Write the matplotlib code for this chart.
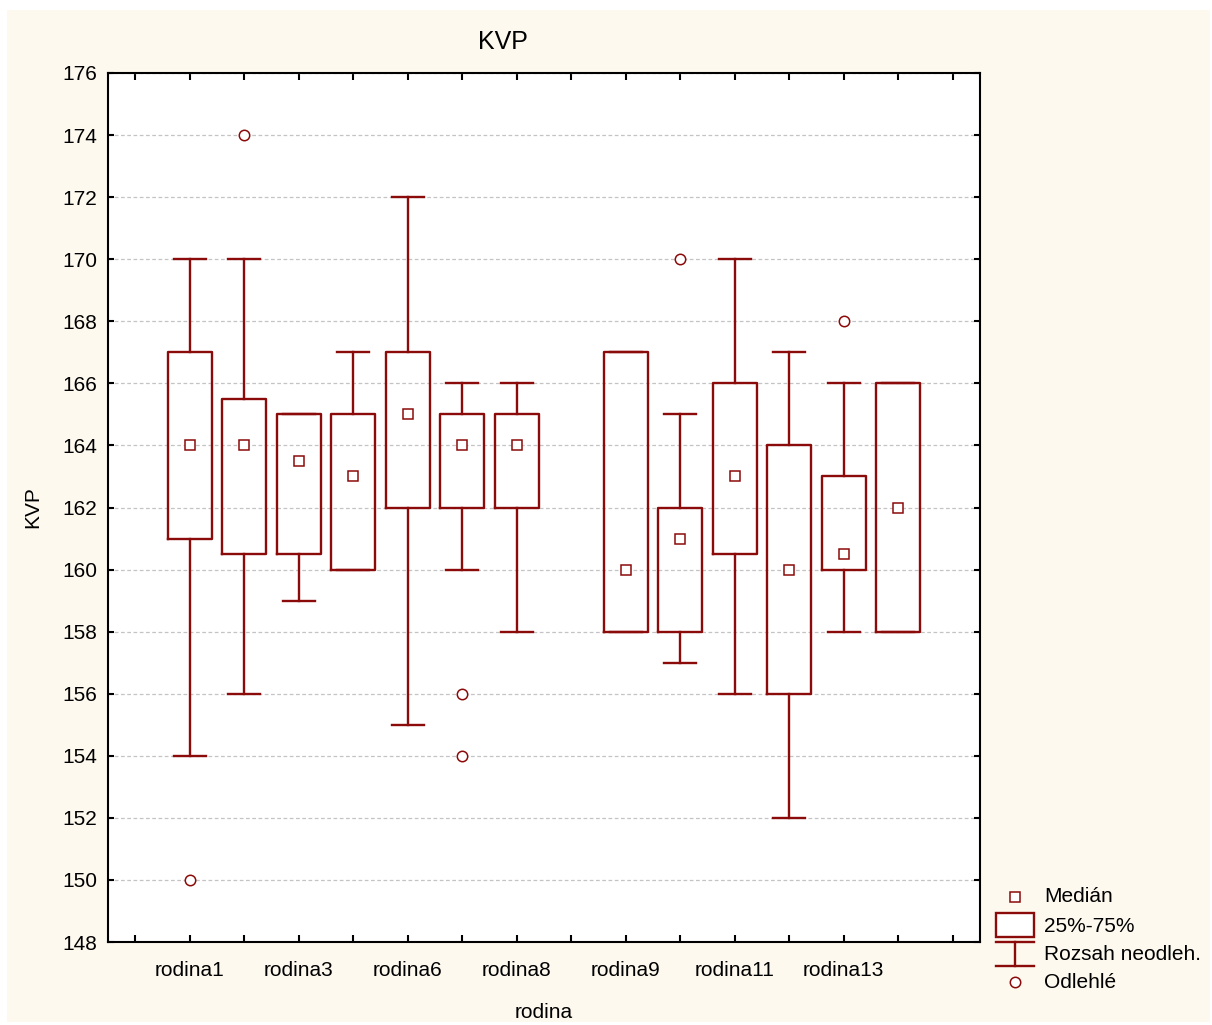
import matplotlib
matplotlib.use("Agg")
import matplotlib.pyplot as plt
from matplotlib.patches import Rectangle
from matplotlib.lines import Line2D

plt.rcParams['font.family'] = ['Liberation Sans', 'DejaVu Sans']

# Data (one slot between rodina8 and rodina9 is empty)
categories = ['rodina1', 'rodina2', 'rodina3', 'rodina5', 'rodina6', 'rodina7', 'rodina8',
              '', 'rodina9', 'rodina10', 'rodina11', 'rodina12', 'rodina13', 'rodina14']
medians = [164, 164, 163.5, 163, 165, 164, 164, None, 160, 161, 163, 160, 160.5, 162]
q1 = [161, 160.5, 160.5, 160, 162, 162, 162, None, 158, 158, 160.5, 156, 160, 158]
q3 = [167, 165.5, 165, 165, 167, 165, 165, None, 167, 162, 166, 164, 163, 166]
whisk_lo = [154, 156, 159, 160, 155, 160, 158, None, 158, 157, 156, 152, 158, 158]
whisk_hi = [170, 170, 165, 167, 172, 166, 166, None, 167, 165, 170, 167, 166, 166]
outliers = [[150], [174], [], [], [], [156, 154], [], None, [], [170], [], [], [168], []]

dark_red = '#8B0A0A'
cream = '#FDF9EF'

fig = plt.figure(figsize=(12.12, 10.25), dpi=100, facecolor='white')
fig.patches.append(Rectangle((7 / 1212, 3 / 1025), 1203 / 1212, 1012 / 1025,
                             transform=fig.transFigure, facecolor=cream,
                             edgecolor='none', zorder=-10))
ax = fig.add_axes([108 / 1212, 1 - 942 / 1025, 872 / 1212, 869 / 1025])
ax.set_facecolor('white')

stats = []
positions = []
for i, name in enumerate(categories):
    if medians[i] is None:
        continue
    stats.append(dict(label=name, med=medians[i], q1=q1[i], q3=q3[i],
                      whislo=whisk_lo[i], whishi=whisk_hi[i], fliers=outliers[i]))
    positions.append(i)

line_kw = dict(color=dark_red, linewidth=1.7)
ax.bxp(stats, positions=positions, widths=0.8, capwidths=0.58,
       boxprops=line_kw, whiskerprops=line_kw, capprops=line_kw,
       medianprops=dict(linewidth=0), showfliers=True,
       flierprops=dict(marker='o', markersize=7.5, markerfacecolor='white',
                       markeredgecolor=dark_red, markeredgewidth=1.1),
       manage_ticks=False, zorder=3)
ax.plot(positions, [m for m in medians if m is not None], linestyle='none',
        marker='s', markersize=7, markerfacecolor='white',
        markeredgecolor=dark_red, markeredgewidth=1.1, zorder=4)

ax.set_xlim(-1.5, 14.5)
ax.set_ylim(148, 176)
ax.set_yticks(range(148, 177, 2))
ax.set_xticks(range(-1, 15))
ax.set_xticklabels(['' if (k < 0 or k > 13 or k % 2) else categories[k]
                    for k in range(-1, 15)])
ax.tick_params(axis='x', direction='in', length=5, width=1.5, top=True,
               labelsize=15, pad=14)
ax.tick_params(axis='y', direction='in', length=4, width=1.5, right=True,
               labelsize=15, pad=8)
for s in ax.spines.values():
    s.set_linewidth(1.5)
ax.yaxis.grid(True, linestyle=(0, (3, 2)), color='#c4c4c4', linewidth=0.9)
ax.set_axisbelow(True)

fig.text(503 / 1212, 1 - 42 / 1025, 'KVP', ha='center', va='center', fontsize=18)
fig.text(544 / 1212, 1 - 1012 / 1025, 'rodina', ha='center', va='center', fontsize=15)
fig.text(33 / 1212, 1 - 507 / 1025, 'KVP', ha='center', va='center', fontsize=15,
         rotation=90)

# legend drawn in pixel coordinates of the figure
def fx(px):
    return px / 1212

def fy(py):
    return 1 - py / 1025

fig.lines.append(Line2D([fx(1015)], [fy(897)], marker='s', markersize=7,
                        markerfacecolor='white', markeredgecolor=dark_red,
                        markeredgewidth=1.1, transform=fig.transFigure))
fig.patches.append(Rectangle((fx(996), fy(937)), 38 / 1212, 24 / 1025,
                             facecolor='white', edgecolor=dark_red, linewidth=1.7,
                             transform=fig.transFigure))
for yy in (942, 966):
    fig.lines.append(Line2D([fx(996), fx(1034)], [fy(yy), fy(yy)], color=dark_red,
                            linewidth=1.7, transform=fig.transFigure))
fig.lines.append(Line2D([fx(1015), fx(1015)], [fy(942), fy(966)], color=dark_red,
                        linewidth=1.7, transform=fig.transFigure))
fig.lines.append(Line2D([fx(1015)], [fy(982)], marker='o', markersize=7.5,
                        markerfacecolor='white', markeredgecolor=dark_red,
                        markeredgewidth=1.1, transform=fig.transFigure))
legend_labels = ['Medián', '25%-75%', 'Rozsah neodleh.', 'Odlehlé']
for lab, yy in zip(legend_labels, (897, 926, 955, 983)):
    fig.text(fx(1044), fy(yy), lab, ha='left', va='center', fontsize=15)

fig.savefig('out.png', dpi=100, facecolor=fig.get_facecolor())
